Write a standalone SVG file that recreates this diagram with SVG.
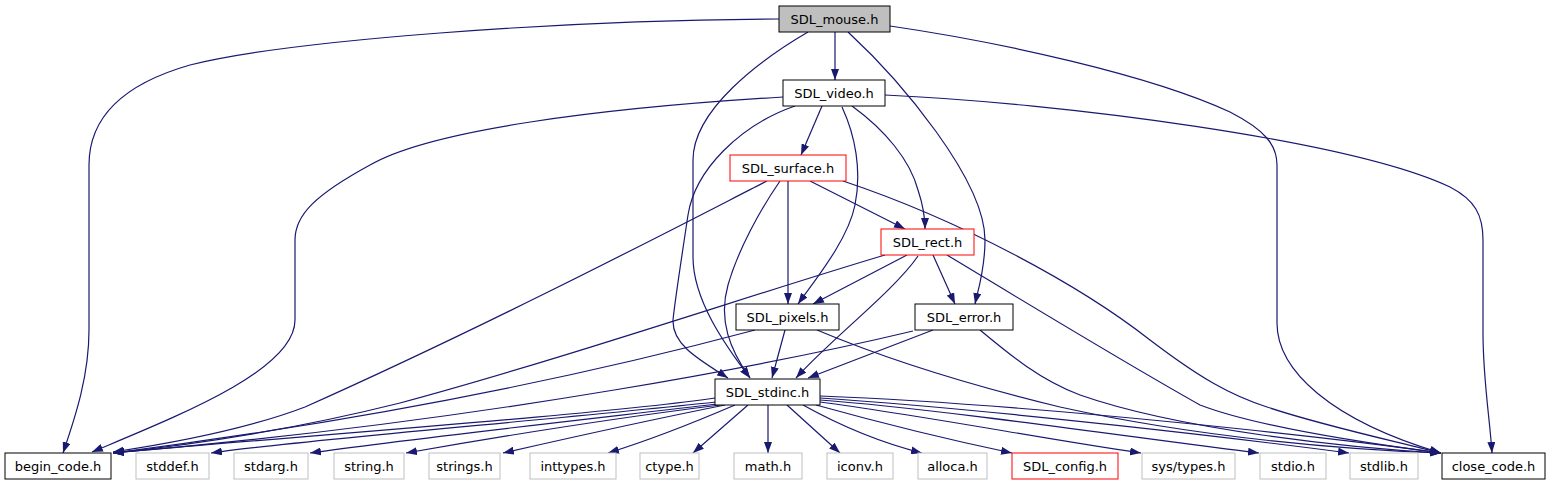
<svg xmlns="http://www.w3.org/2000/svg" width="1552" height="485" viewBox="0 0 1552 485">
<defs>
<marker id="ah" viewBox="0 0 11 8" refX="11" refY="4" markerWidth="11" markerHeight="8" markerUnits="userSpaceOnUse" orient="auto">
<path d="M0,0 L11,4 L0,8 z" fill="#191970"/>
</marker>
<style>
.n rect{fill:#fff;stroke:#000;stroke-width:1}
.n.root rect{fill:#bfbfbf}
.n.red rect{stroke:#ff0000}
.n.gray rect{stroke:#bfbfbf}
.n text{font-family:"DejaVu Sans",sans-serif;font-size:13px;text-anchor:middle;fill:#000}
#edges path{fill:none;stroke:#191970;stroke-width:1.2;marker-end:url(#ah)}
</style>
</defs>
<rect width="1552" height="485" fill="#fff"/>
<g id="edges">
<!-- SDL_mouse.h -->
<path d="M779,19 C560,20 290,40 190,65 C120,85 89,120 89,165 L89,330 C89,375 76,415 63,453"/>
<path d="M835,32 L835,80"/>
<path d="M808,32 C760,60 693,110 693,160 L693,257 C693,300 725,345 750,378"/>
<path d="M848,32 C900,80 985,180 985,240 C985,270 978,290 975,304"/>
<path d="M890,26 C1000,42 1150,75 1230,112 C1265,130 1277,145 1277,165 L1277,323 C1277,370 1330,420 1441,453"/>
<!-- SDL_video.h -->
<path d="M783,97 C600,108 430,130 370,165 C315,195 295,215 295,240 L295,320 C295,370 180,415 92,452"/>
<path d="M822,106 L801,155"/>
<path d="M795,106 C740,125 695,170 688,215 C682,255 675,300 673,320 C672,345 700,360 728,378"/>
<path d="M842,107 C855,135 862,170 855,205 C848,240 815,280 798,304"/>
<path d="M852,106 C885,130 910,160 918,190 C923,205 925,218 925,229"/>
<path d="M885,95 C1060,103 1350,140 1450,187 C1475,200 1483,215 1483,240 L1483,333 C1483,380 1490,420 1492,453"/>
<!-- SDL_surface.h -->
<path d="M767,181 C700,215 500,320 305,407 C250,428 180,442 113,452"/>
<path d="M780,181 C760,210 738,250 728,285 C718,320 730,350 750,378"/>
<path d="M788,181 L788,304"/>
<path d="M810,181 L905,229"/>
<path d="M843,181 C960,220 1080,285 1150,340 C1200,378 1230,395 1267,407 C1320,425 1390,440 1441,453"/>
<!-- SDL_rect.h -->
<path d="M885,255 C760,292 560,360 400,403 C300,428 200,444 113,453"/>
<path d="M907,255 L813,304"/>
<path d="M918,256 C895,290 830,340 796,378"/>
<path d="M933,255 L955,304"/>
<path d="M947,255 C1030,305 1120,360 1200,405 C1260,428 1380,445 1441,453"/>
<!-- SDL_pixels.h -->
<path d="M755,330 C680,350 450,410 113,453"/>
<path d="M785,330 L772,378"/>
<path d="M817,330 C900,365 990,390 1060,407 C1200,438 1350,450 1441,453"/>
<!-- SDL_error.h -->
<path d="M913,331 C800,358 500,420 113,453"/>
<path d="M933,330 L808,378"/>
<path d="M980,330 C1010,355 1040,380 1080,395 C1180,430 1350,448 1441,453"/>
<!-- SDL_stdinc.h -->
<path d="M715,398 C600,415 250,440 113,453"/>
<path d="M716,402 C550,420 300,440 211,453"/>
<path d="M717,404 C580,420 400,440 310,453"/>
<path d="M720,405 C600,420 480,440 406,453"/>
<path d="M725,405 C650,420 560,440 503,453"/>
<path d="M735,405 C700,420 650,440 608,453"/>
<path d="M748,405 L693,453"/>
<path d="M768,405 L768,453"/>
<path d="M787,405 L840,453"/>
<path d="M803,405 C830,420 870,440 922,453"/>
<path d="M816,405 C870,420 950,440 1012,453"/>
<path d="M820,402 C920,415 1050,440 1141,453"/>
<path d="M820,400 C950,410 1150,440 1259,453"/>
<path d="M820,398 C1000,410 1250,440 1349,453"/>
<path d="M820,396 C1050,405 1350,440 1441,453"/>
</g>
<g id="SDL_mouse" class="n root"><rect x="779" y="6" width="111" height="26"/><text x="834.5" y="23.5">SDL_mouse.h</text></g>
<g id="SDL_video" class="n"><rect x="783" y="80" width="102" height="26"/><text x="834" y="97.5">SDL_video.h</text></g>
<g id="SDL_surface" class="n red"><rect x="730" y="155" width="116" height="26"/><text x="788" y="172.5">SDL_surface.h</text></g>
<g id="SDL_rect" class="n red"><rect x="881" y="229" width="93" height="26"/><text x="927.5" y="246.5">SDL_rect.h</text></g>
<g id="SDL_pixels" class="n"><rect x="736" y="304" width="103" height="26"/><text x="787.5" y="321.5">SDL_pixels.h</text></g>
<g id="SDL_error" class="n"><rect x="915" y="304" width="98" height="26"/><text x="964" y="321.5">SDL_error.h</text></g>
<g id="SDL_stdinc" class="n"><rect x="715" y="379" width="105" height="26"/><text x="767.5" y="396.5">SDL_stdinc.h</text></g>
<g id="begin_code" class="n"><rect x="5" y="453" width="106" height="26"/><text x="58" y="470.5">begin_code.h</text></g>
<g id="stddef" class="n gray"><rect x="136" y="453" width="73" height="26"/><text x="172.5" y="470.5">stddef.h</text></g>
<g id="stdarg" class="n gray"><rect x="234" y="453" width="74" height="26"/><text x="271" y="470.5">stdarg.h</text></g>
<g id="string" class="n gray"><rect x="334" y="453" width="70" height="26"/><text x="369" y="470.5">string.h</text></g>
<g id="strings" class="n gray"><rect x="429" y="453" width="71" height="26"/><text x="464.5" y="470.5">strings.h</text></g>
<g id="inttypes" class="n gray"><rect x="530" y="453" width="86" height="26"/><text x="573" y="470.5">inttypes.h</text></g>
<g id="ctype" class="n gray"><rect x="640" y="453" width="59" height="26"/><text x="669.5" y="470.5">ctype.h</text></g>
<g id="math" class="n gray"><rect x="734" y="453" width="68" height="26"/><text x="768" y="470.5">math.h</text></g>
<g id="iconv" class="n gray"><rect x="827" y="453" width="66" height="26"/><text x="860" y="470.5">iconv.h</text></g>
<g id="alloca" class="n gray"><rect x="918" y="453" width="69" height="26"/><text x="952.5" y="470.5">alloca.h</text></g>
<g id="SDL_config" class="n red"><rect x="1012" y="453" width="106" height="26"/><text x="1065" y="470.5">SDL_config.h</text></g>
<g id="sys_types" class="n gray"><rect x="1142" y="453" width="93" height="26"/><text x="1188.5" y="470.5">sys/types.h</text></g>
<g id="stdio" class="n gray"><rect x="1260" y="453" width="66" height="26"/><text x="1293" y="470.5">stdio.h</text></g>
<g id="stdlib" class="n gray"><rect x="1350" y="453" width="68" height="26"/><text x="1384" y="470.5">stdlib.h</text></g>
<g id="close_code" class="n"><rect x="1442" y="453" width="103" height="26"/><text x="1493.5" y="470.5">close_code.h</text></g>
</svg>
